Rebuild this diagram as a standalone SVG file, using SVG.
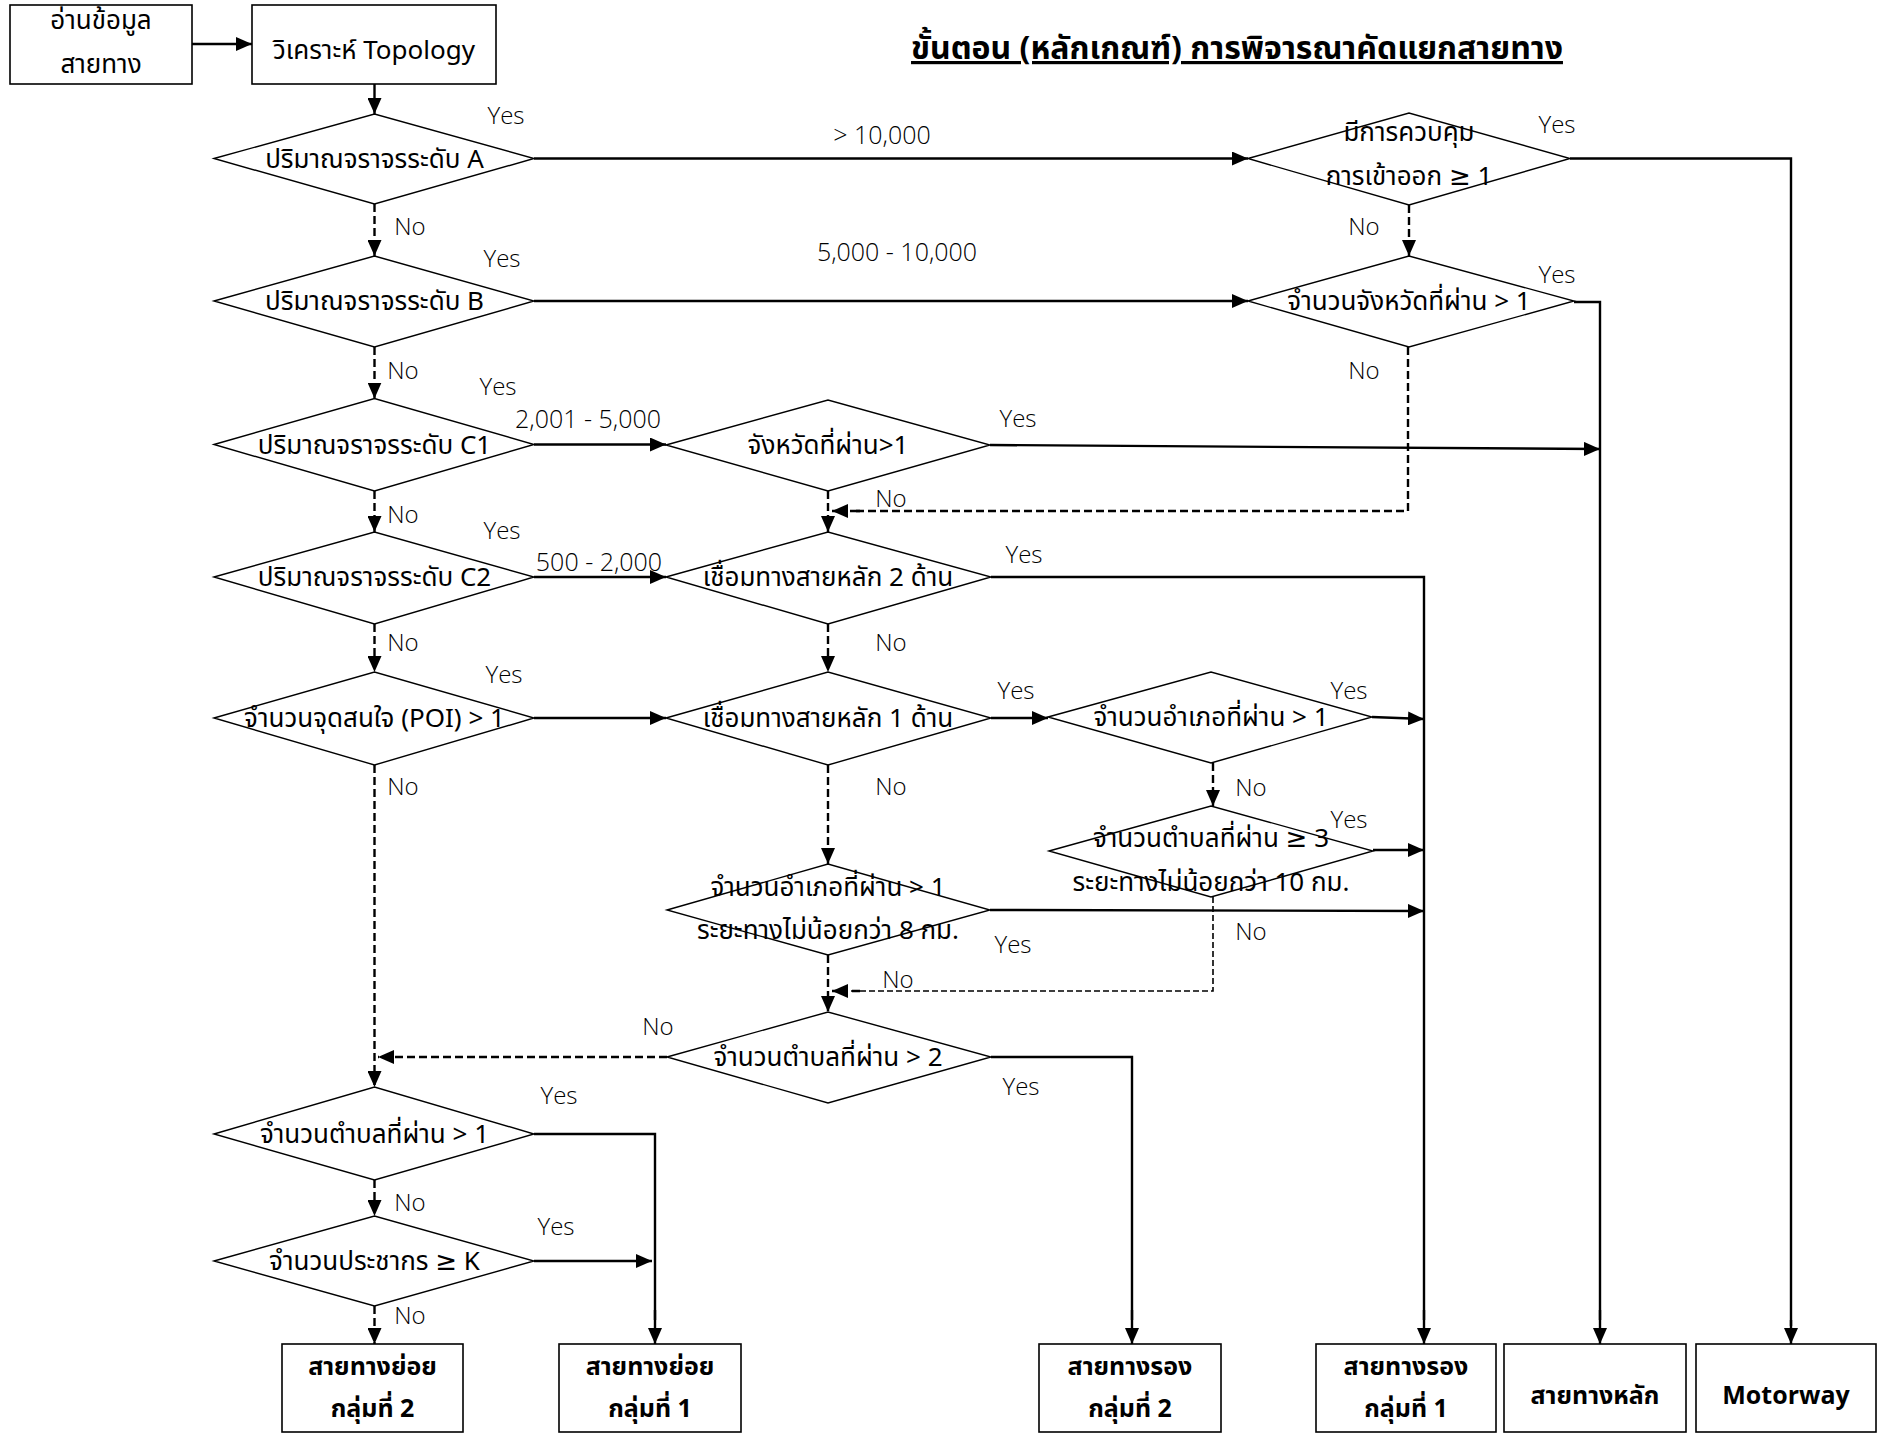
<svg xmlns="http://www.w3.org/2000/svg" width="1882" height="1440" viewBox="0 0 1882 1440">
<style>
.bg{fill:#fff}
.box{fill:#fff;stroke:#000;stroke-width:1.6}
.dia{fill:#fff;stroke:#000;stroke-width:1.4}
.t{font-family:"Noto Sans Thai","Noto Sans Thai UI","Leelawadee UI",Tahoma,"Noto Sans","DejaVu Sans",sans-serif;font-size:26px;fill:#000;text-anchor:middle}
.tb{font-family:"Noto Sans Thai","Noto Sans Thai UI","Leelawadee UI",Tahoma,"Noto Sans","DejaVu Sans",sans-serif;font-size:25px;font-weight:bold;fill:#000;text-anchor:middle}
.lbl{font-family:"Open Sans","Noto Sans",sans-serif;font-size:24px;fill:#000;text-anchor:middle;font-weight:300}
.num{font-family:"Open Sans","Noto Sans",sans-serif;font-size:25px;fill:#000;text-anchor:middle;font-weight:300}
.title{font-family:"Noto Sans Thai","Leelawadee UI",Tahoma,"Noto Sans","DejaVu Sans",sans-serif;font-size:32px;font-weight:bold;fill:#000;text-anchor:middle;text-decoration:underline}
.s{fill:none;stroke:#000;stroke-width:2.4}
.sa{fill:none;stroke:#000;stroke-width:2.4;marker-end:url(#ah)}
.d{fill:none;stroke:#000;stroke-width:2.4;stroke-dasharray:8 4}
.da{fill:none;stroke:#000;stroke-width:2.4;stroke-dasharray:8 4;marker-end:url(#ah)}
.dt{fill:none;stroke:#000;stroke-width:1.6;stroke-dasharray:6 3}
</style>
<defs>
<marker id="ah" markerUnits="userSpaceOnUse" markerWidth="18" markerHeight="14" refX="16" refY="7" orient="auto">
<path d="M0,0 L16,7 L0,14 z" fill="#000"/>
</marker>
</defs>
<rect class="bg" x="0" y="0" width="1882" height="1440"/>

<text class="title" x="1237" y="59">ขั้นตอน (หลักเกณฑ์) การพิจารณาคัดแยกสายทาง</text>

<g id="connectors">
<path class="sa" d="M192,44 L252,44"/>
<path class="sa" d="M374.5,84 L374.5,114"/>
<path class="sa" d="M534,158.5 L1248,158.5"/>
<path class="s" d="M1570,158.5 L1791,158.5 L1791,1326"/>
<path class="sa" d="M1791,1320 L1791,1344"/>
<path class="da" d="M1409,205 L1409,256"/>
<path class="sa" d="M534,301 L1248,301"/>
<path class="s" d="M1574,302 L1600,302 L1600,1320"/>
<path class="sa" d="M1600,1310 L1600,1344"/>
<path class="d" d="M1408,347 L1408,511 L850,511"/>
<path class="da" d="M860,511 L832,511"/>
<path class="da" d="M374.5,204 L374.5,256"/>
<path class="da" d="M374.5,347 L374.5,398.5"/>
<path class="sa" d="M534,444.5 L666,444.5"/>
<path class="sa" d="M990,445 L1600,449"/>
<path class="da" d="M828,491 L828,532"/>
<path class="da" d="M374.5,491 L374.5,532"/>
<path class="sa" d="M534,577 L666,577"/>
<path class="s" d="M991,577 L1424,577 L1424,1320"/>
<path class="sa" d="M1424,1310 L1424,1344"/>
<path class="da" d="M374.5,624 L374.5,672"/>
<path class="da" d="M828,624 L828,672"/>
<path class="sa" d="M534,718 L666,718"/>
<path class="sa" d="M991,718 L1048,718"/>
<path class="sa" d="M1372,717 L1424,719"/>
<path class="da" d="M1213,763 L1213,806"/>
<path class="sa" d="M1373,850 L1424,850"/>
<path class="dt" d="M1213,897 L1213,991 L850,991"/>
<path class="da" d="M860,991 L832,991"/>
<path class="da" d="M828,765 L828,864"/>
<path class="sa" d="M990,910 L1424,911"/>
<path class="da" d="M828,955 L828,1012"/>
<path class="s" d="M991,1057 L1132,1057 L1132,1320"/>
<path class="sa" d="M1132,1310 L1132,1344"/>
<path class="da" d="M667,1057 L378,1057"/>
<path class="da" d="M374.5,765 L374.5,1087"/>
<path class="s" d="M534,1134 L655,1134 L655,1320"/>
<path class="sa" d="M655,1310 L655,1344"/>
<path class="da" d="M374.5,1180 L374.5,1216"/>
<path class="sa" d="M534,1261 L652,1261"/>
<path class="da" d="M374.5,1306 L374.5,1344"/>
</g>

<g id="labels">
<text class="num" x="882" y="144">&gt; 10,000</text>
<text class="num" x="897" y="261">5,000 - 10,000</text>
<text class="num" x="588" y="428">2,001 - 5,000</text>
<text class="num" x="599" y="571">500 - 2,000</text>
<text class="lbl" x="506" y="124">Yes</text>
<text class="lbl" x="410" y="235">No</text>
<text class="lbl" x="1557" y="133">Yes</text>
<text class="lbl" x="1364" y="235">No</text>
<text class="lbl" x="502" y="267">Yes</text>
<text class="lbl" x="1557" y="283">Yes</text>
<text class="lbl" x="403" y="379">No</text>
<text class="lbl" x="1364" y="379">No</text>
<text class="lbl" x="498" y="395">Yes</text>
<text class="lbl" x="1018" y="427">Yes</text>
<text class="lbl" x="891" y="507">No</text>
<text class="lbl" x="403" y="523">No</text>
<text class="lbl" x="502" y="539">Yes</text>
<text class="lbl" x="1024" y="563">Yes</text>
<text class="lbl" x="403" y="651">No</text>
<text class="lbl" x="891" y="651">No</text>
<text class="lbl" x="504" y="683">Yes</text>
<text class="lbl" x="1016" y="699">Yes</text>
<text class="lbl" x="1349" y="699">Yes</text>
<text class="lbl" x="403" y="795">No</text>
<text class="lbl" x="891" y="795">No</text>
<text class="lbl" x="1251" y="796">No</text>
<text class="lbl" x="1349" y="828">Yes</text>
<text class="lbl" x="1251" y="940">No</text>
<text class="lbl" x="1013" y="953">Yes</text>
<text class="lbl" x="898" y="988">No</text>
<text class="lbl" x="658" y="1035">No</text>
<text class="lbl" x="1021" y="1095">Yes</text>
<text class="lbl" x="559" y="1104">Yes</text>
<text class="lbl" x="410" y="1211">No</text>
<text class="lbl" x="556" y="1235">Yes</text>
<text class="lbl" x="410" y="1324">No</text>
</g>

<g id="n-read">
<rect class="box" x="10" y="5" width="182" height="79"/>
<text class="t" x="101" y="29">อ่านข้อมูล</text>
<text class="t" x="101" y="73">สายทาง</text>
</g>
<g id="n-topology">
<rect class="box" x="252" y="5" width="244" height="79"/>
<text class="t" x="374" y="59">วิเคราะห์ Topology</text>
</g>

<g id="d-A">
<polygon class="dia" points="214,158.5 374.5,114 534,158.5 374.5,204"/>
<text class="t" x="374.5" y="168">ปริมาณจราจรระดับ A</text>
</g>
<g id="d-B">
<polygon class="dia" points="214,301 374.5,256 534,301 374.5,347"/>
<text class="t" x="374.5" y="310">ปริมาณจราจรระดับ B</text>
</g>
<g id="d-C1">
<polygon class="dia" points="214,444.5 374.5,398.5 534,444.5 374.5,491"/>
<text class="t" x="374.5" y="454">ปริมาณจราจรระดับ C1</text>
</g>
<g id="d-C2">
<polygon class="dia" points="214,577 374.5,532 534,577 374.5,624"/>
<text class="t" x="374.5" y="586">ปริมาณจราจรระดับ C2</text>
</g>
<g id="d-POI">
<polygon class="dia" points="214,718 374.5,672 534,718 374.5,765"/>
<text class="t" x="374.5" y="727">จำนวนจุดสนใจ (POI) &gt; 1</text>
</g>
<g id="d-tambon1">
<polygon class="dia" points="214,1134 374.5,1087 534,1134 374.5,1180"/>
<text class="t" x="374.5" y="1143">จำนวนตำบลที่ผ่าน &gt; 1</text>
</g>
<g id="d-pop">
<polygon class="dia" points="214,1261 374.5,1216 534,1261 374.5,1306"/>
<text class="t" x="374.5" y="1270">จำนวนประชากร ≥ K</text>
</g>

<g id="d-access">
<polygon class="dia" points="1248,158.5 1409,113 1570,158.5 1409,205"/>
<text class="t" x="1409" y="141">มีการควบคุม</text>
<text class="t" x="1409" y="185">การเข้าออก  ≥ 1</text>
</g>
<g id="d-prov">
<polygon class="dia" points="1248,301 1409,256 1574,301 1409,347"/>
<text class="t" x="1409" y="310">จำนวนจังหวัดที่ผ่าน &gt; 1</text>
</g>

<g id="d-prov2">
<polygon class="dia" points="666,445 828,400 990,445 828,491"/>
<text class="t" x="828" y="454">จังหวัดที่ผ่าน&gt;1</text>
</g>
<g id="d-link2">
<polygon class="dia" points="666,577 828,532 991,577 828,624"/>
<text class="t" x="828" y="586">เชื่อมทางสายหลัก 2 ด้าน</text>
</g>
<g id="d-link1">
<polygon class="dia" points="666,718 828,672 991,718 828,765"/>
<text class="t" x="828" y="727">เชื่อมทางสายหลัก 1 ด้าน</text>
</g>
<g id="d-dist1">
<polygon class="dia" points="1048,717 1211,672 1372,717 1211,763"/>
<text class="t" x="1211" y="726">จำนวนอำเภอที่ผ่าน &gt; 1</text>
</g>
<g id="d-tambon3">
<polygon class="dia" points="1049,851 1211,806 1373,851 1211,897"/>
<text class="t" x="1211" y="847">จำนวนตำบลที่ผ่าน ≥ 3</text>
<text class="t" x="1211" y="891">ระยะทางไม่น้อยกว่า 10 กม.</text>
</g>
<g id="d-dist8">
<polygon class="dia" points="667,910 828,864 990,910 828,955"/>
<text class="t" x="828" y="896">จำนวนอำเภอที่ผ่าน &gt; 1</text>
<text class="t" x="828" y="939">ระยะทางไม่น้อยกว่า 8 กม.</text>
</g>
<g id="d-tambon2">
<polygon class="dia" points="667,1057 828,1012 991,1057 828,1103"/>
<text class="t" x="828" y="1066">จำนวนตำบลที่ผ่าน &gt; 2</text>
</g>

<g id="r-minor2">
<rect class="box" x="282" y="1344" width="181" height="88"/>
<text class="tb" x="372.5" y="1375">สายทางย่อย</text>
<text class="tb" x="372.5" y="1417">กลุ่มที่ 2</text>
</g>
<g id="r-minor1">
<rect class="box" x="559" y="1344" width="182" height="88"/>
<text class="tb" x="650" y="1375">สายทางย่อย</text>
<text class="tb" x="650" y="1417">กลุ่มที่ 1</text>
</g>
<g id="r-sec2">
<rect class="box" x="1039" y="1344" width="182" height="88"/>
<text class="tb" x="1130" y="1375">สายทางรอง</text>
<text class="tb" x="1130" y="1417">กลุ่มที่ 2</text>
</g>
<g id="r-sec1">
<rect class="box" x="1316" y="1344" width="180" height="88"/>
<text class="tb" x="1406" y="1375">สายทางรอง</text>
<text class="tb" x="1406" y="1417">กลุ่มที่ 1</text>
</g>
<g id="r-main">
<rect class="box" x="1504" y="1344" width="182" height="88"/>
<text class="tb" x="1595" y="1404">สายทางหลัก</text>
</g>
<g id="r-motorway">
<rect class="box" x="1696" y="1344" width="180" height="88"/>
<text class="tb" x="1786" y="1404">Motorway</text>
</g>
</svg>
